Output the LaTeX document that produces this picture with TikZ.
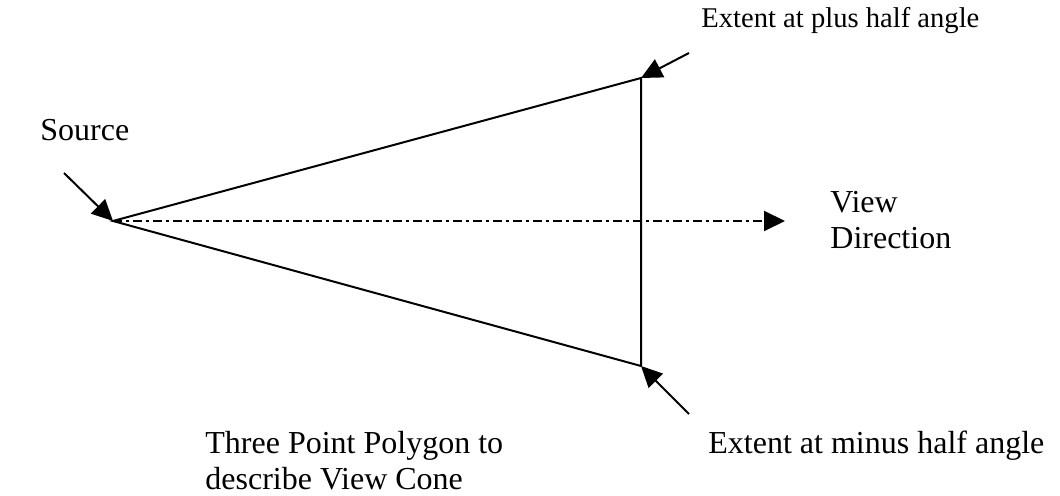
\documentclass[tikz,border=0pt]{standalone}
\usepackage{fontspec}
\setmainfont{Liberation Serif}
\usetikzlibrary{arrows.meta,positioning}
\tikzset{
  lbl/.style={inner sep=0pt,anchor=base west,align=left,font=\fontsize{16pt}{18pt}\selectfont},
  smlbl/.style={lbl,font=\fontsize{14.3pt}{16pt}\selectfont},
  edge/.style={line width=1pt},
  arr/.style={-{Triangle[length=10.5pt,width=10pt]},line width=1pt},
  viewarr/.style={arr,dash pattern=on 4.5pt off 2pt on 1.5pt off 2pt}
}
\begin{document}
\begin{tikzpicture}[x=0.5pt,y=-0.5pt]
  \useasboundingbox (0,0) rectangle (1060,496);
  % cone corners
  \coordinate (apex) at (113,221);
  \coordinate (plus) at (641,78);
  \coordinate (minus) at (641,366);
  \coordinate (viewtip) at (785,221);
  % arrow tails
  \coordinate (srctail) at (64,173);
  \coordinate (plustail) at (689,53);
  \coordinate (minustail) at (689,414);

  \node[lbl] (src) at (40,141) {Source};
  \node[smlbl] (pluslbl) at (701,28) {Extent at plus half angle};
  \node[lbl] (minuslbl) at (708,453) {Extent at minus half angle};
  \node[lbl] (viewlbl) at (830,249) {View\\Direction};
  \node[lbl] (polylbl) at (205,489) {Three Point Polygon to\\describe View Cone};

  \draw[edge] (minus) -- (apex) -- (plus) -- (minus);
  \draw[viewarr] (apex) -- (viewtip);
  \draw[arr] (srctail) -- (apex);
  \draw[arr] (plustail) -- (plus);
  \draw[arr] (minustail) -- (minus);
\end{tikzpicture}
\end{document}
